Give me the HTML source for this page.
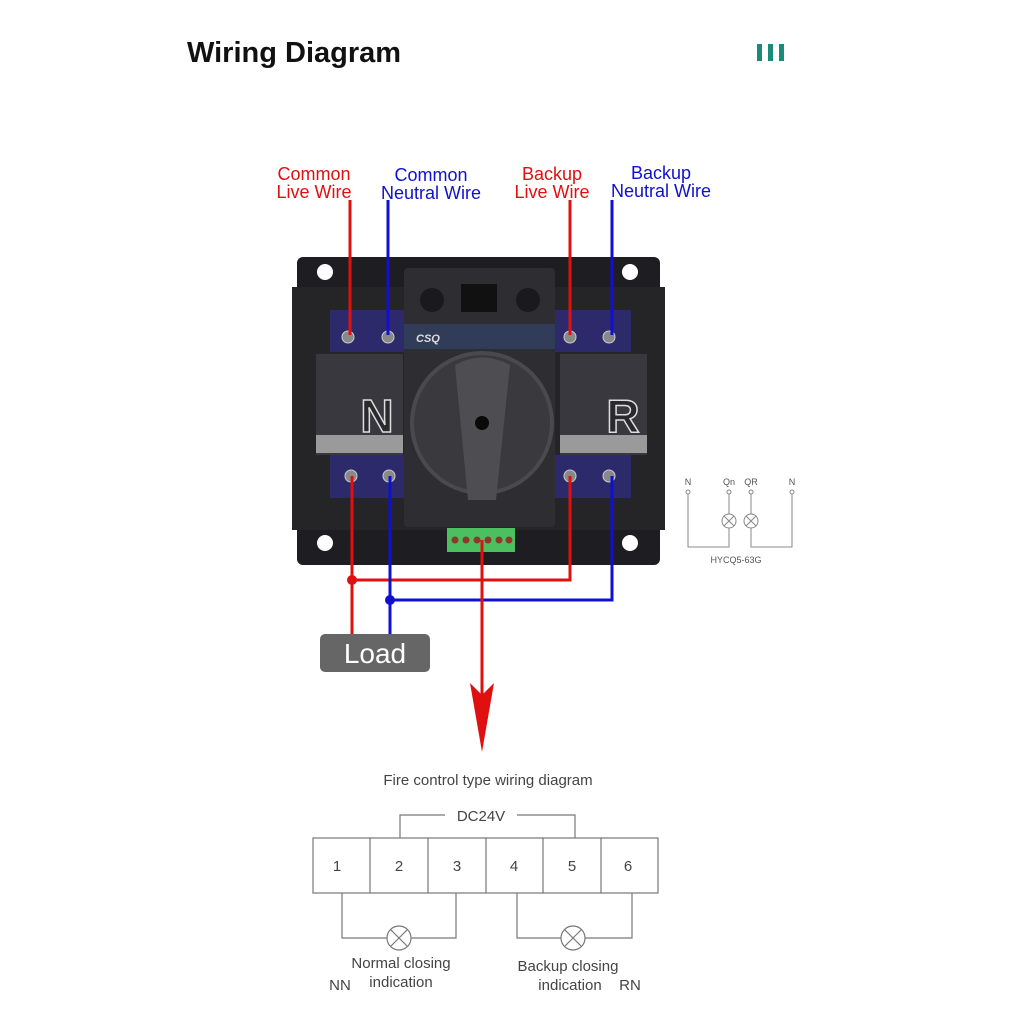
<!DOCTYPE html>
<html><head><meta charset="utf-8"><style>body{margin:0;background:#fff}svg{display:block}</style></head><body>
<svg width="1015" height="1015" viewBox="0 0 1015 1015" xmlns="http://www.w3.org/2000/svg" font-family="Liberation Sans, sans-serif">
<text x="187" y="62" font-size="29" font-weight="bold" fill="#111">Wiring Diagram</text>
<rect x="757" y="44" width="5" height="17" fill="#1a8a7a"/><rect x="768" y="44" width="5" height="17" fill="#1a8a7a"/><rect x="779" y="44" width="5" height="17" fill="#1a8a7a"/>
<g font-size="18" text-anchor="middle">
<text x="314" y="180" fill="#e01010">Common</text><text x="314" y="198" fill="#e01010">Live Wire</text>
<text x="431" y="181" fill="#1010d0">Common</text><text x="431" y="199" fill="#1010d0">Neutral Wire</text>
<text x="552" y="180" fill="#e01010">Backup</text><text x="552" y="198" fill="#e01010">Live Wire</text>
<text x="661" y="179" fill="#1010d0">Backup</text><text x="661" y="197" fill="#1010d0">Neutral Wire</text>
</g>
<!-- device -->
<rect x="297" y="257" width="363" height="308" rx="6" fill="#1e1e22"/>
<rect x="292" y="287" width="373" height="243" fill="#252528"/>
<circle cx="325" cy="272" r="8" fill="#fff"/><circle cx="630" cy="272" r="8" fill="#fff"/>
<circle cx="325" cy="543" r="8" fill="#fff"/><circle cx="630" cy="543" r="8" fill="#fff"/>
<rect x="330" y="310" width="76" height="42" fill="#2c2a6a"/><rect x="330" y="455" width="76" height="43" fill="#2c2a6a"/>
<rect x="555" y="310" width="76" height="42" fill="#2c2a6a"/><rect x="555" y="455" width="76" height="43" fill="#2c2a6a"/>
<rect x="316" y="354" width="87" height="101" fill="#38383e"/><rect x="316" y="435" width="87" height="18" fill="#9a9a9a"/>
<rect x="560" y="354" width="87" height="101" fill="#38383e"/><rect x="560" y="435" width="87" height="18" fill="#9a9a9a"/>
<text x="377" y="432" font-size="46" font-weight="bold" fill="#2a2a2e" stroke="#ddd" stroke-width="1.5" text-anchor="middle">N</text>
<text x="623" y="432" font-size="46" font-weight="bold" fill="#2a2a2e" stroke="#ddd" stroke-width="1.5" text-anchor="middle">R</text>
<g fill="#888" stroke="#ccc"><circle cx="348" cy="337" r="6"/><circle cx="388" cy="337" r="6"/><circle cx="570" cy="337" r="6"/><circle cx="609" cy="337" r="6"/>
<circle cx="351" cy="476" r="6"/><circle cx="389" cy="476" r="6"/><circle cx="570" cy="476" r="6"/><circle cx="609" cy="476" r="6"/></g>
<rect x="404" y="268" width="151" height="259" rx="4" fill="#2e2e32"/>
<rect x="404" y="324" width="151" height="25" fill="#303c58"/>
<text x="416" y="342" font-size="11" font-style="italic" font-weight="bold" fill="#ddd">CSQ</text>
<circle cx="432" cy="300" r="12" fill="#1a1a1c"/><circle cx="528" cy="300" r="12" fill="#1a1a1c"/>
<rect x="461" y="284" width="36" height="28" fill="#111"/>
<circle cx="482" cy="423" r="72" fill="#4a4a4e"/><circle cx="482" cy="423" r="68" fill="#3a3a3e"/>
<path d="M455 365 Q482 350 510 365 L496 500 L468 500 Z" fill="#4e4e52"/>
<circle cx="482" cy="423" r="7" fill="#0a0a0a"/>
<rect x="447" y="528" width="68" height="24" fill="#4cc060"/>
<g fill="#8a3a2a"><circle cx="455" cy="540" r="3.5"/><circle cx="466" cy="540" r="3.5"/><circle cx="477" cy="540" r="3.5"/><circle cx="488" cy="540" r="3.5"/><circle cx="499" cy="540" r="3.5"/><circle cx="509" cy="540" r="3.5"/></g>
<!-- wires -->
<g fill="none" stroke-width="3">
<path d="M350 200V335M570 200V335" stroke="#e01010"/>
<path d="M388 200V335M612 200V335" stroke="#1010d0"/>
<path d="M352 476V634M570 476V580H352" stroke="#e01010"/>
<path d="M390 476V634M612 476V600H390" stroke="#1010d0"/>
<path d="M482 540V700" stroke="#e01010"/>
</g>
<circle cx="352" cy="580" r="5" fill="#e01010"/><circle cx="390" cy="600" r="5" fill="#1010d0"/>
<path d="M470 683 L482 752 L494 683 L482 695 Z" fill="#e01010"/>
<rect x="320" y="634" width="110" height="38" rx="5" fill="#666"/>
<text x="375" y="663" font-size="28" fill="#fff" text-anchor="middle">Load</text>
<!-- small diagram -->
<g font-size="9" fill="#555" text-anchor="middle"><text x="688" y="485">N</text><text x="729" y="485">Qn</text><text x="751" y="485">QR</text><text x="792" y="485">N</text><text x="736" y="563">HYCQ5-63G</text></g>
<g fill="none" stroke="#888" stroke-width="1">
<circle cx="688" cy="492" r="2"/><circle cx="729" cy="492" r="2"/><circle cx="751" cy="492" r="2"/><circle cx="792" cy="492" r="2"/>
<path d="M688 494V547H729V528M729 494V514M751 494V514M751 528V547H792V494"/>
<circle cx="729" cy="521" r="7"/><path d="M724 516l10 10M734 516l-10 10"/>
<circle cx="751" cy="521" r="7"/><path d="M746 516l10 10M756 516l-10 10"/>
</g>
<!-- fire control -->
<text x="488" y="785" font-size="15" fill="#444" text-anchor="middle">Fire control type wiring diagram</text>
<g fill="none" stroke="#777" stroke-width="1.2">
<rect x="313" y="838" width="345" height="55"/>
<path d="M370 838V893M428 838V893M486 838V893M543 838V893M601 838V893"/>
<path d="M400 838V815H445M517 815H575V838"/>
<path d="M342 893V938H387M411 938H456V893"/>
<path d="M517 893V938H561M585 938H632V893"/>
<circle cx="399" cy="938" r="12"/><path d="M391 930l16 16M407 930l-16 16"/>
<circle cx="573" cy="938" r="12"/><path d="M565 930l16 16M581 930l-16 16"/>
</g>
<g font-size="15" fill="#444" text-anchor="middle">
<text x="481" y="821">DC24V</text>
<text x="337" y="871">1</text><text x="399" y="871">2</text><text x="457" y="871">3</text><text x="514" y="871">4</text><text x="572" y="871">5</text><text x="628" y="871">6</text>
<text x="401" y="968">Normal closing</text><text x="401" y="987">indication</text>
<text x="568" y="971">Backup closing</text><text x="570" y="990">indication</text>
<text x="340" y="990">NN</text><text x="630" y="990">RN</text>
</g>
</svg>
</body></html>
